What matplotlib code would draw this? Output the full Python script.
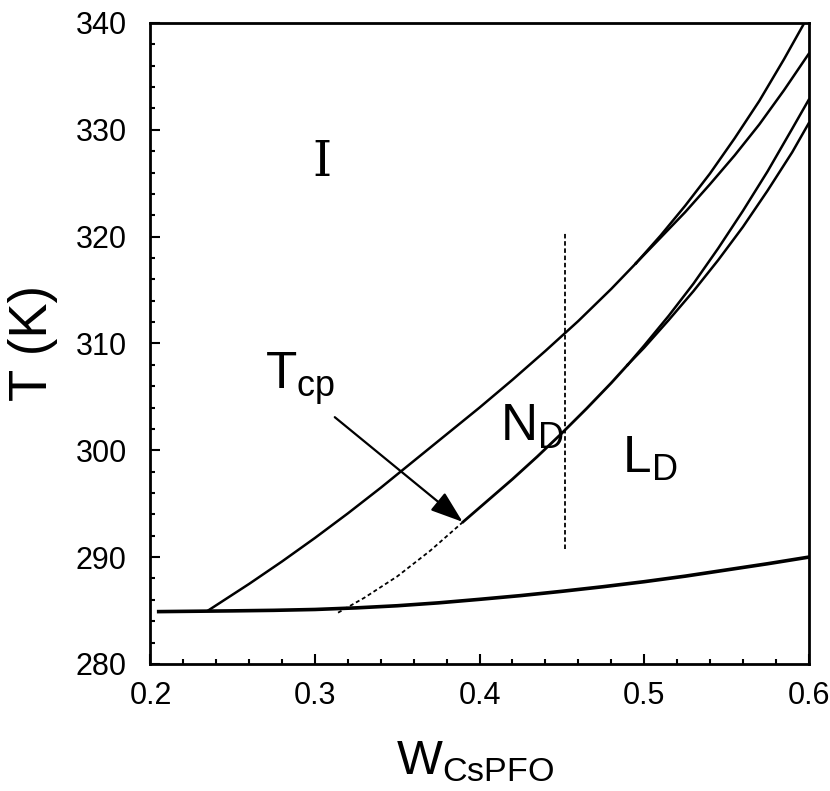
import matplotlib
matplotlib.use("Agg")
import matplotlib.pyplot as plt
from matplotlib.ticker import MultipleLocator, FormatStrFormatter

plt.rcParams['font.family'] = ['Liberation Sans', 'DejaVu Sans']
plt.rcParams['mathtext.fontset'] = 'custom'
plt.rcParams['mathtext.rm'] = 'Liberation Sans'
plt.rcParams['mathtext.it'] = 'Liberation Sans'

# upper boundary (I / N_D), common part, then its two branches
a_x = [0.235, 0.26, 0.28, 0.30, 0.32, 0.34, 0.36, 0.38, 0.40, 0.42, 0.44, 0.46, 0.48, 0.495]
a_y = [285.0, 287.5, 289.6, 291.8, 294.1, 296.5, 299.0, 301.5, 304.0, 306.6, 309.3, 312.1, 315.1, 317.5]
a1_x = [0.495, 0.51, 0.525, 0.54, 0.555, 0.57, 0.585, 0.597]
a1_y = [317.5, 320.1, 322.9, 325.9, 329.2, 332.7, 336.6, 339.9]
a2_x = [0.495, 0.51, 0.525, 0.54, 0.555, 0.57, 0.585, 0.60]
a2_y = [317.5, 319.9, 322.3, 324.9, 327.6, 330.5, 333.7, 337.1]

# lower boundary (N_D / L_D): dotted part, solid part, two branches
b_dot_x = [0.314, 0.33, 0.35, 0.37, 0.39]
b_dot_y = [284.8, 286.2, 288.2, 290.6, 293.3]
b_x = [0.39, 0.405, 0.42, 0.435, 0.45, 0.465, 0.48, 0.49]
b_y = [293.3, 295.3, 297.3, 299.4, 301.6, 303.9, 306.3, 308.0]
b1_x = [0.49, 0.50, 0.515, 0.53, 0.545, 0.56, 0.575, 0.59, 0.60]
b1_y = [308.0, 309.8, 312.6, 315.6, 318.9, 322.4, 326.1, 330.1, 332.8]
b2_x = [0.49, 0.50, 0.515, 0.53, 0.545, 0.56, 0.575, 0.59, 0.60]
b2_y = [308.0, 309.6, 312.2, 314.9, 317.8, 320.9, 324.3, 327.9, 330.6]

# bottom (thick) curve
c_x = [0.205, 0.25, 0.275, 0.30, 0.325, 0.35, 0.375, 0.40, 0.425, 0.45,
       0.475, 0.50, 0.525, 0.55, 0.575, 0.60]
c_y = [284.9, 284.97, 285.02, 285.1, 285.25, 285.45, 285.72, 286.05, 286.4, 286.8,
       287.23, 287.7, 288.22, 288.8, 289.38, 290.0]

# vertical dashed line
v_x = 0.452
v_y = [290.8, 320.3]

# arrow to T_cp
arrow_from = (0.312, 303.1)
arrow_to = (0.3897, 293.3)

fig = plt.figure(figsize=(8.3, 7.91), dpi=100)
ax = fig.add_axes([0.1813, 0.1606, 0.793, 0.8104])

lw = 1.8
ax.plot(a_x, a_y, color='black', lw=lw)
ax.plot(a1_x, a1_y, color='black', lw=lw)
ax.plot(a2_x, a2_y, color='black', lw=lw)
ax.plot(b_dot_x, b_dot_y, color='black', lw=1.3, linestyle=(0, (2.2, 1.6)))
ax.plot(b_x, b_y, color='black', lw=2.0)
ax.plot(b1_x, b1_y, color='black', lw=lw)
ax.plot(b2_x, b2_y, color='black', lw=lw)
ax.plot(c_x, c_y, color='black', lw=2.6)
ax.plot([v_x, v_x], v_y, color='black', lw=1.3, linestyle=(0, (2.5, 1.5)))

ax.annotate('', xy=arrow_to, xytext=arrow_from,
            arrowprops=dict(arrowstyle='-|>,head_length=1.0,head_width=0.35',
                            mutation_scale=20, color='black', lw=1.6,
                            shrinkA=0, shrinkB=0))

ax.text(0.3043, 326.9, 'I', family='DejaVu Serif', fontsize=35,
        ha='center', va='center')
ax.text(0.2696, 305.8, r'$\mathrm{T_{cp}}$', fontsize=37, ha='left', va='baseline')
ax.text(0.4125, 300.9, r'$\mathrm{N_{D}}$', fontsize=37, ha='left', va='baseline')
ax.text(0.4868, 297.9, r'$\mathrm{L_{D}}$', fontsize=37, ha='left', va='baseline')

ax.set_xlim(0.2, 0.6)
ax.set_ylim(280, 340)
ax.xaxis.set_major_locator(MultipleLocator(0.1))
ax.xaxis.set_minor_locator(MultipleLocator(0.02))
ax.yaxis.set_major_locator(MultipleLocator(10))
ax.yaxis.set_minor_locator(MultipleLocator(2))
ax.xaxis.set_major_formatter(FormatStrFormatter('%.1f'))
ax.yaxis.set_major_formatter(FormatStrFormatter('%d'))

ax.tick_params(which='both', direction='in', top=False, right=False, width=1.5)
ax.tick_params(which='major', length=7)
ax.tick_params(which='minor', length=3.5)
ax.tick_params(axis='x', which='major', labelsize=22, pad=12)
ax.tick_params(axis='y', which='major', labelsize=22, pad=17)
for s in ax.spines.values():
    s.set_linewidth(2)

ax.set_xlabel(r'$\mathrm{W_{CsPFO}}$', fontsize=35)
ax.set_ylabel('T (K)', fontsize=38)
ax.xaxis.set_label_coords(0.493, -0.118)
ax.yaxis.set_label_coords(-0.14, 0.5)

fig.savefig('out.png', dpi=100)
